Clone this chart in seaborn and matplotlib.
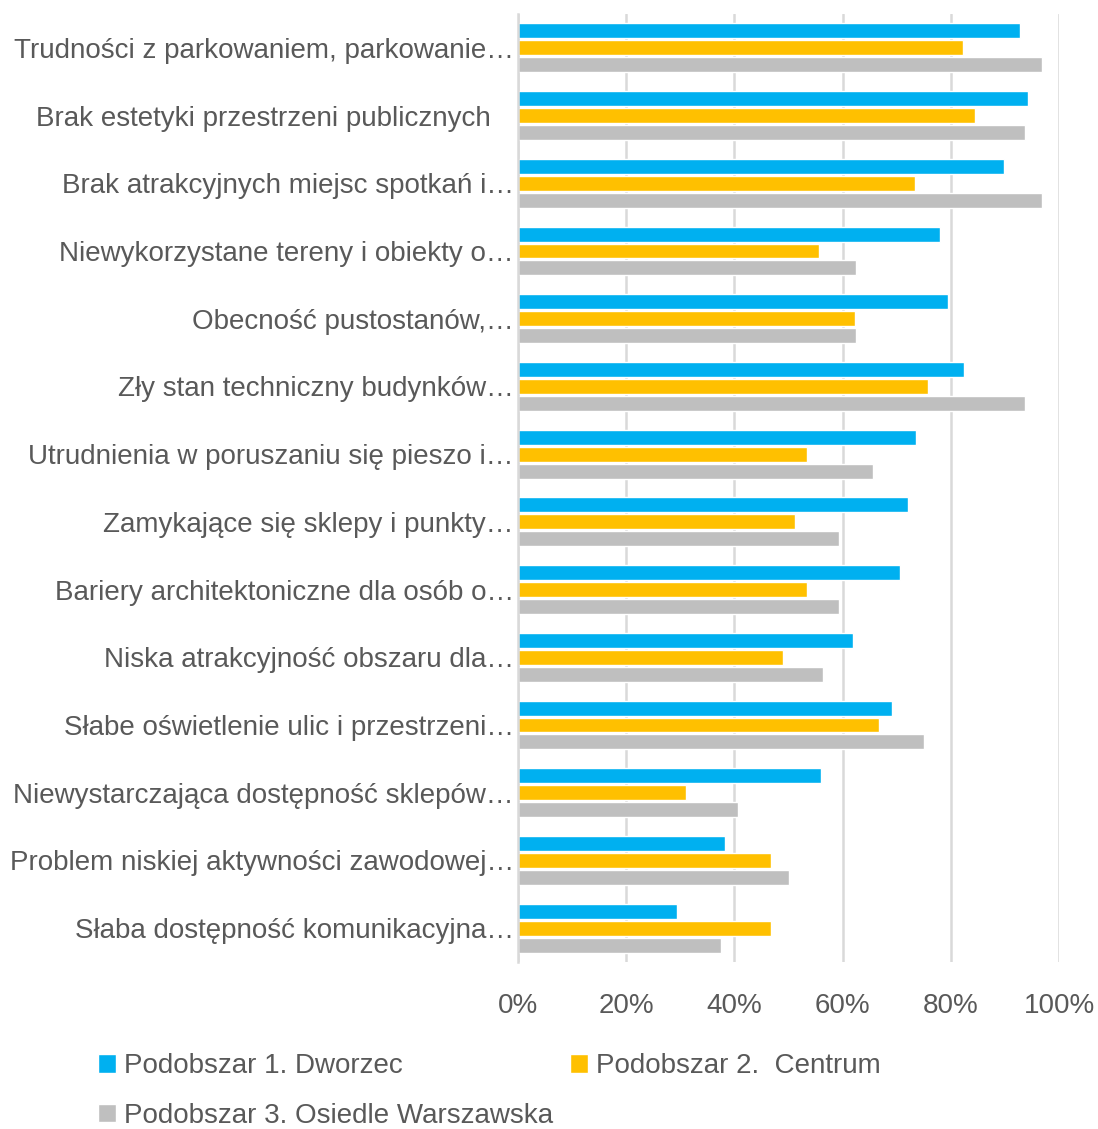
import numpy as np
import pandas as pd
import matplotlib
matplotlib.use("Agg")
import matplotlib.pyplot as plt
import seaborn as sns
from matplotlib.ticker import PercentFormatter

# data (share of answers, %)
categories = [
    "Trudności z parkowaniem, parkowanie…",
    "Brak estetyki przestrzeni publicznych   ",
    "Brak atrakcyjnych miejsc spotkań i…",
    "Niewykorzystane tereny i obiekty o…",
    "Obecność pustostanów,…",
    "Zły stan techniczny budynków…",
    "Utrudnienia w poruszaniu się pieszo i…",
    "Zamykające się sklepy i punkty…",
    "Bariery architektoniczne dla osób o…",
    "Niska atrakcyjność obszaru dla…",
    "Słabe oświetlenie ulic i przestrzeni…",
    "Niewystarczająca dostępność sklepów…",
    "Problem niskiej aktywności zawodowej…",
    "Słaba dostępność komunikacyjna…",
]
series = ["Podobszar 1. Dworzec", "Podobszar 2.  Centrum", "Podobszar 3. Osiedle Warszawska"]

dworzec = [92.7, 94.2, 89.8, 78.0, 79.5, 82.4, 73.6, 72.1, 70.6, 61.9, 69.1, 56.0, 38.3, 29.4]
centrum = [82.3, 84.5, 73.3, 55.6, 62.3, 75.8, 53.4, 51.2, 53.4, 49.0, 66.7, 31.1, 46.7, 46.7]
warszawska = [96.9, 93.8, 96.9, 62.5, 62.5, 93.8, 65.6, 59.4, 59.4, 56.3, 75.0, 40.6, 50.0, 37.5]

colors = ["#00B0F0", "#FFC000", "#BFBFBF"]

df = pd.DataFrame({
    "kategoria": categories * 3,
    "seria": [s for s in series for _ in categories],
    "wartosc": dworzec + centrum + warszawska,
})

sns.set_style("white")
plt.rcParams["font.family"] = ["Liberation Sans", "DejaVu Sans"]
text_col = "#595959"
fs = 20

fig = plt.figure(figsize=(10.98, 11.29), dpi=100)
ax = fig.add_axes([518 / 1098, 1 - 962 / 1129, (1059 - 518) / 1098, (962 - 14) / 1129])

sns.barplot(data=df, y="kategoria", x="wartosc", hue="seria", orient="h",
            palette=colors, width=0.75, gap=0.12, saturation=1, ax=ax)

ax.set_xlim(0, 100)
ax.set_ylim(len(categories) - 0.5, -0.5)
ax.set_xticks(range(0, 101, 20))
ax.xaxis.set_major_formatter(PercentFormatter(decimals=0))
ax.grid(axis="x", color="#D9D9D9", linewidth=1.8)
ax.set_axisbelow(True)
for s in ["top", "right", "bottom"]:
    ax.spines[s].set_visible(False)
ax.spines["left"].set_color("#D9D9D9")
ax.spines["left"].set_linewidth(1.8)
ax.set_xlabel("")
ax.set_ylabel("")
ax.tick_params(axis="y", length=0, pad=3, labelsize=fs, labelcolor=text_col)
ax.tick_params(axis="x", length=0, pad=22, labelsize=fs, labelcolor=text_col)

handles, labels = ax.get_legend_handles_labels()
ax.get_legend().remove()
order = [0, 2, 1]
fig.legend([handles[i] for i in order], [labels[i] for i in order],
           loc="upper left", bbox_to_anchor=(0.089, 0.067), ncol=2,
           frameon=False, fontsize=fs, labelcolor=text_col,
           handlelength=0.65, handleheight=0.65, handletextpad=0.3,
           columnspacing=0.6, labelspacing=0.85, borderpad=0, borderaxespad=0)

fig.savefig("out.png", dpi=100)
